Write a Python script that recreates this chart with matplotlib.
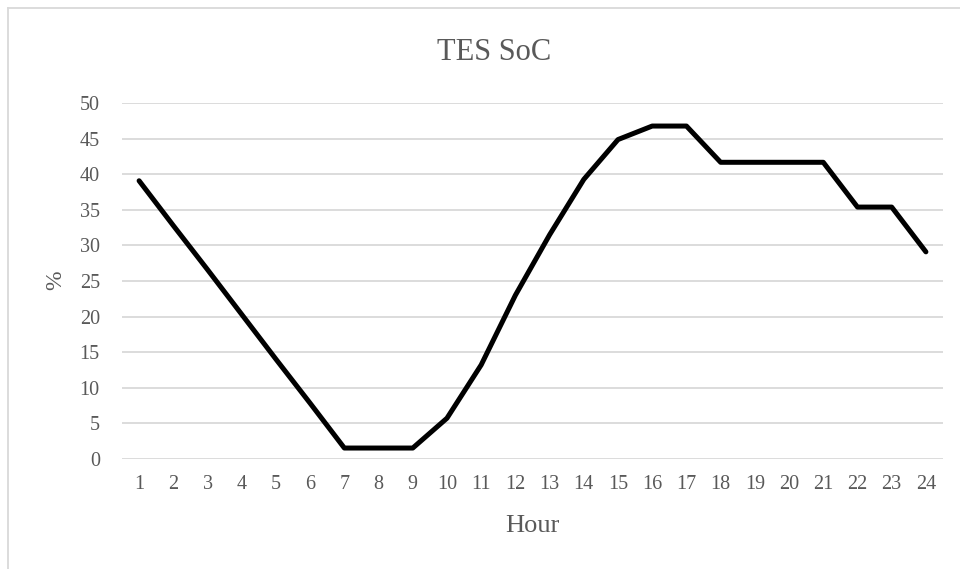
import matplotlib
matplotlib.use("Agg")
import matplotlib.pyplot as plt
from matplotlib.lines import Line2D

# data
hours = list(range(1, 25))
soc = [39.1, 32.8, 26.6, 20.3, 14.0, 7.8, 1.5, 1.5, 1.5, 5.7, 13.2, 23.0,
       31.5, 39.3, 44.9, 46.8, 46.8, 41.7, 41.7, 41.7, 41.7, 35.4, 35.4, 29.1]
yticks = [0, 5, 10, 15, 20, 25, 30, 35, 40, 45, 50]

title = 'TES SoC'
xlabel = 'Hour'
ylabel = '%'

txt = '#595959'
grid = '#d9d9d9'
plt.rcParams['font.family'] = ['Liberation Serif', 'DejaVu Serif']

fig = plt.figure(figsize=(9.6, 5.69), dpi=100)
ax = fig.add_axes([122/960, 1-458.7/569, 821/960, 355.4/569])

ax.plot(hours, soc, color='black', lw=3.6,
        solid_capstyle='round', solid_joinstyle='round', zorder=3)

ax.set_xlim(0.5, 24.5)
ax.set_ylim(0, 50)
ax.set_xticks(hours)
ax.set_yticks(yticks)
ax.tick_params(axis='both', length=0, labelsize=14.5, colors=txt)
ax.tick_params(axis='x', pad=12)
ax.tick_params(axis='y', pad=16)
ax.grid(axis='y', color=grid, lw=1.3)
ax.set_axisbelow(True)
for s in ax.spines.values():
    s.set_visible(False)

fig.text(0.515, 1-60/569, title, ha='center', va='baseline',
         fontsize=22, color=txt)
fig.text(532/960, 1-532/569, xlabel, ha='center', va='baseline',
         fontsize=19, color=txt)
fig.text(56/960, 1-280/569, ylabel, ha='center', va='center',
         rotation=90, fontsize=17, color=txt)

# chart area border (cut off at right and bottom)
fig.add_artist(Line2D([8/960, 8/960], [0, 1-8/569], color=grid, lw=1.3,
                      transform=fig.transFigure))
fig.add_artist(Line2D([8/960, 1], [1-8/569, 1-8/569], color=grid, lw=1.3,
                      transform=fig.transFigure))

fig.savefig('out.png', dpi=100)
